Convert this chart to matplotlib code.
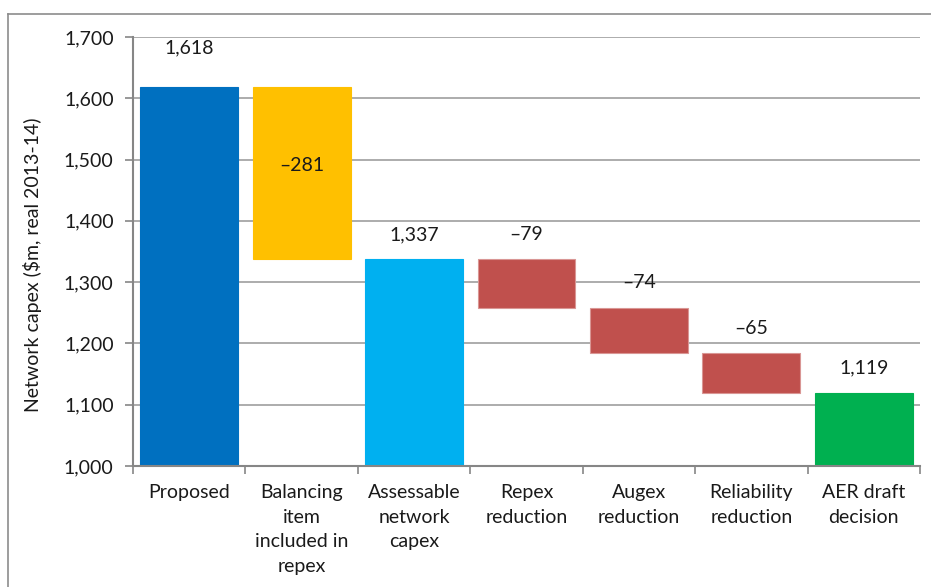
import matplotlib
matplotlib.use("Agg")
import matplotlib.pyplot as plt
from matplotlib.lines import Line2D

categories = [
    "Proposed",
    "Balancing\nitem\nincluded in\nrepex",
    "Assessable\nnetwork\ncapex",
    "Repex\nreduction",
    "Augex\nreduction",
    "Reliability\nreduction",
    "AER draft\ndecision",
]
values = [1618, -281, 1337, -79, -74, -65, 1119]
is_total = [True, False, True, False, False, False, True]
colors = ["#0070C0", "#FFC000", "#00B0F0", "#C0504D", "#C0504D", "#C0504D", "#00B050"]
yticks = [1000, 1100, 1200, 1300, 1400, 1500, 1600, 1700]

plt.rcParams["font.family"] = ["Lato", "DejaVu Sans"]
plt.rcParams["font.size"] = 14

fig = plt.figure(figsize=(9.31, 5.87), dpi=100)
ax = fig.add_axes([0.1429, 0.2061, 0.9882 - 0.1429, 0.937 - 0.2061])

running = 0
for i, (v, tot, c) in enumerate(zip(values, is_total, colors)):
    if tot:
        bottom, height = 0, v
        running = v
        top = v
    else:
        bottom, height = running + v, -v
        top = running
        running = running + v
    edge = "#D99694" if c == "#C0504D" else c
    ax.bar(i, height, bottom=bottom, width=0.87, color=c, edgecolor=edge,
           linewidth=0.8, zorder=3)
    label = f"{v:,}".replace("-", "\u2013")
    if i == 0:
        off = 28
    elif v < 0 and i == 1:
        off = -56
    else:
        off = 18
    ax.annotate(label, (i, top), xytext=(0, off), textcoords="offset points",
                ha="center", va="center", color="#1a1a1a", zorder=4)

ax.set_xlim(-0.5, len(categories) - 0.5)
ax.set_ylim(1000, 1700)
ax.set_yticks(yticks)
ax.set_yticklabels([f"{t:,}" for t in yticks])
ax.set_xticks(range(len(categories)))
ax.set_xticklabels(categories, linespacing=1.55, va="top")
ax.set_xticks([i - 0.5 for i in range(len(categories) + 1)], minor=True)
ax.tick_params(axis="x", which="major", length=0, pad=13, colors="#1a1a1a")
ax.tick_params(axis="x", which="minor", length=6, width=1.2, color="#868686")
ax.tick_params(axis="y", length=6, width=1.2, color="#868686", pad=8, labelcolor="#1a1a1a")

ax.grid(axis="y", color="#A6A6A6", linewidth=1.3, zorder=0)
ax.set_axisbelow(True)
for s in ["top", "right"]:
    ax.spines[s].set_visible(False)
for s in ["left", "bottom"]:
    ax.spines[s].set_color("#868686")
    ax.spines[s].set_linewidth(1.5)
    ax.spines[s].set_zorder(5)

ax.set_ylabel("Network capex ($m, real 2013-14)", color="#1a1a1a")
ax.yaxis.set_label_coords(-0.116, 0.47)

# outer chart frame (top and left visible)
fig.add_artist(Line2D([8 / 931, 1], [1 - 14 / 587, 1 - 14 / 587], color="#8c8c8c", linewidth=1.2))
fig.add_artist(Line2D([8 / 931, 8 / 931], [0, 1 - 14 / 587], color="#8c8c8c", linewidth=1.2))

fig.savefig("out.png", dpi=100)
